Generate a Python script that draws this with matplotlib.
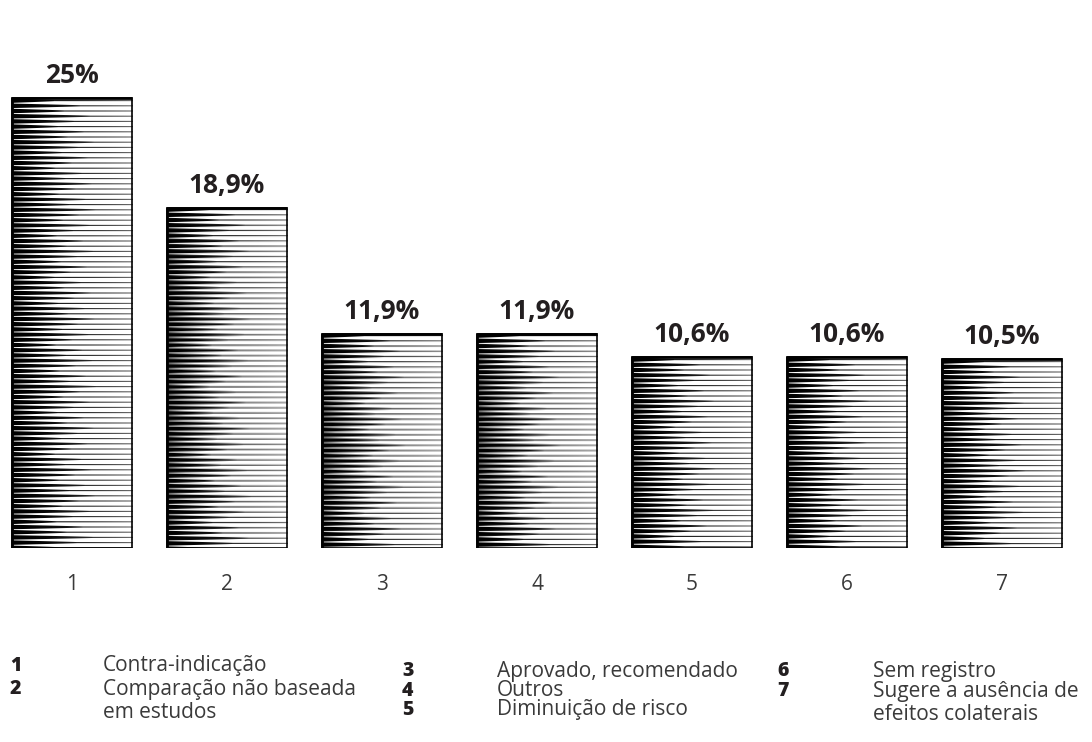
import matplotlib.pyplot as plt
import numpy as np

# --- Data ---
categories = ["1", "2", "3", "4", "5", "6", "7"]
values = [25.0, 18.9, 11.9, 11.9, 10.6, 10.6, 10.5]
value_labels = ["25%", "18,9%", "11,9%", "11,9%", "10,6%", "10,6%", "10,5%"]
legend_nums = ["1", "2", "3", "4", "5", "6", "7"]
legend_texts = ["Contra-indicação", "Comparação não baseada\nem estudos",
                "Aprovado, recomendado", "Outros", "Diminuição de risco",
                "Sem registro", "Sugere a ausência de\nefeitos colaterais"]

plt.rcParams['font.family'] = ['Open Sans', 'DejaVu Sans']

W_PX, H_PX, DPI = 1092, 742, 100
fig = plt.figure(figsize=(W_PX / DPI, H_PX / DPI), dpi=DPI)
ax = fig.add_axes([0, 194 / H_PX, 1, 548 / H_PX])

step_px = 155.0
x_pos = np.arange(len(categories))
ax.set_xlim(-72 / step_px, (W_PX - 72) / step_px)
ax.set_ylim(0, 548 / 18.0)
bar_w = 0.78


def engraving(w, h, period=5.2):
    # woodcut-like horizontal strokes, heavy on the left, thin on the right
    xs = (np.arange(w) + 0.5) / w
    ys = np.arange(h) + 0.5
    idx = np.floor(ys / period)
    d = np.abs((ys % period) - period / 2)
    vary = 0.35 + 0.35 * ((idx * 0.618034) % 1.0)
    fall = np.clip(1 - xs[None, :] / vary[:, None], 0, 1) ** 0.9
    t = 1.1 + 3.4 * fall
    val = np.clip(t / 2 - d[:, None] + 0.5, 0, 1)
    val *= (1 - 0.4 * xs[None, :] ** 2)
    return val


bars = ax.bar(x_pos, values, width=bar_w, color='white', edgecolor='none', zorder=1)
for b in bars:
    x0, y0 = b.get_x(), b.get_y()
    bw, bh = b.get_width(), b.get_height()
    p0 = ax.transData.transform((x0, y0))
    p1 = ax.transData.transform((x0 + bw, y0 + bh))
    wpx = max(int(round(p1[0] - p0[0])), 2)
    hpx = max(int(round(p1[1] - p0[1])), 2)
    img = ax.imshow(engraving(wpx, hpx), cmap='gray_r', vmin=0, vmax=1,
                    extent=[x0, x0 + bw, y0, y0 + bh], origin='upper',
                    aspect='auto', interpolation='bilinear', zorder=2)
    img.set_clip_path(b)
    ax.add_patch(plt.Rectangle((x0, y0), bw, bh, fill=False, edgecolor='black',
                               linewidth=1.2, zorder=3))
    # heavier left and top edges
    ax.plot([x0, x0, x0 + bw], [y0, y0 + bh, y0 + bh], color='black',
            linewidth=2.0, zorder=3, solid_capstyle='butt')

for xp, v, lab in zip(x_pos, values, value_labels):
    ax.annotate(lab, (xp, v), xytext=(0, 11), textcoords='offset points',
                ha='center', va='baseline', fontsize=19, fontweight='bold',
                color='#231f20')

ax.set_xticks(x_pos)
ax.set_xticklabels(categories, fontsize=15, color='#3a3a3a')
ax.tick_params(axis='x', length=0, pad=19)
ax.set_yticks([])
for s in ax.spines.values():
    s.set_visible(False)

# legend block (pixel positions of number and first text line)
num_pos = [(10, 666), (10, 689), (402, 671), (402, 691), (402, 710), (777, 671), (777, 691)]
txt_pos = [(103, 666), (103, 689), (497, 671), (497, 691), (497, 710), (873, 671), (873, 691)]
line_step = 23
for n, t, (nx, ny), (tx, ty) in zip(legend_nums, legend_texts, num_pos, txt_pos):
    fig.text(nx / W_PX, 1 - ny / H_PX, n, fontsize=14, fontweight='heavy',
             color='#231f20', va='center', ha='left')
    for k, line in enumerate(t.split("\n")):
        fig.text(tx / W_PX, 1 - (ty + k * line_step) / H_PX, line, fontsize=15,
                 color='#3a3a3a', va='center', ha='left')

fig.savefig('out.png', dpi=DPI)
